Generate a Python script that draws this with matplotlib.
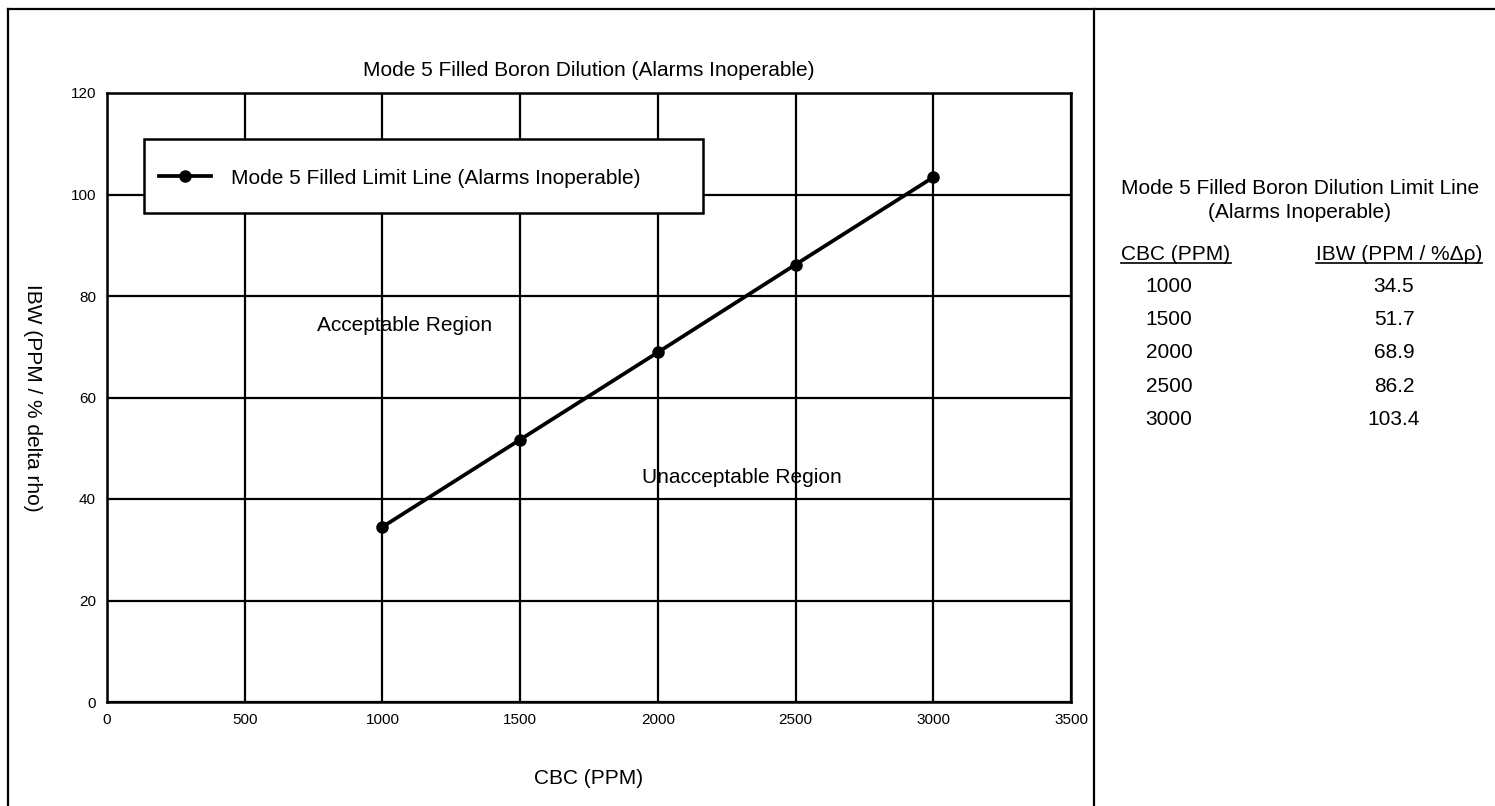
import matplotlib
matplotlib.use("Agg")
import matplotlib.pyplot as plt
from matplotlib.lines import Line2D
from matplotlib.patches import Rectangle

plt.rcParams['font.family'] = ['Liberation Sans', 'DejaVu Sans']

cbc = [1000, 1500, 2000, 2500, 3000]
ibw = [34.5, 51.7, 68.9, 86.2, 103.4]
cbc_labels = ["1000", "1500", "2000", "2500", "3000"]
ibw_labels = ["34.5", "51.7", "68.9", "86.2", "103.4"]
xticks = [0, 500, 1000, 1500, 2000, 2500, 3000, 3500]
yticks = [0, 20, 40, 60, 80, 100, 120]

W, H = 1495, 806
FS = 15
fig = plt.figure(figsize=(W / 100, H / 100), dpi=100)

def fx(px):
    return px / W

def fy(py):
    return 1 - py / H

left, right, top, bottom = 107, 1071, 93, 702
aw, ah = right - left, bottom - top
ax = fig.add_axes([fx(left), fy(bottom), aw / W, ah / H])
ax.set_xlim(0, 3500)
ax.set_ylim(0, 120)
ax.set_xticks(xticks)
ax.set_yticks(yticks)
ax.tick_params(length=0, labelsize=11, pad=8)
ax.grid(True, color='black', linewidth=1.6)
for s in ax.spines.values():
    s.set_linewidth(1.8)
ax.set_axisbelow(True)

ax.plot(cbc, ibw, color='black', linewidth=2.7, marker='o', markersize=8,
        label='Mode 5 Filled Limit Line (Alarms Inoperable)', zorder=5)

ax.set_title('Mode 5 Filled Boron Dilution (Alarms Inoperable)', fontsize=FS, pad=16)
ax.title.set_position((0.5, (bottom - 68) / ah))
ax.title.set_va('center')
ax.set_xlabel('CBC (PPM)', fontsize=FS)
ax.xaxis.set_label_coords(0.5, (bottom - 778) / ah)
ax.xaxis.label.set_va('center')
ax.set_ylabel('IBW (PPM / % delta rho)', fontsize=FS, rotation=270)
ax.yaxis.set_label_coords((32 - left) / aw, 0.5)
ax.yaxis.label.set_va('center')

ax.text(1082, 74.1, 'Acceptable Region', fontsize=FS, ha='center', va='center', zorder=6)
ax.text(2306, 44.3, 'Unacceptable Region', fontsize=FS, ha='center', va='center', zorder=6)

# legend box
bx0, by0, bx1, by1 = 144, 139, 703, 213
ax.add_patch(Rectangle(((bx0 - left) / aw, (bottom - by1) / ah),
                       (bx1 - bx0) / aw, (by1 - by0) / ah,
                       transform=ax.transAxes, facecolor='white', edgecolor='black',
                       linewidth=1.8, zorder=7))
leg = ax.legend(loc='center left', bbox_to_anchor=((159 - left) / aw,
                                                   (bottom - 178) / ah),
                frameon=False, fontsize=FS, handlelength=2.5, handletextpad=0.95,
                borderpad=0, borderaxespad=0)
leg.set_zorder(8)

# outer border and divider
fig.add_artist(Line2D([fx(7.5), fx(7.5)], [fy(8.5), 0], color='black', linewidth=1.6))
fig.add_artist(Line2D([fx(7.5), 1], [fy(8.5), fy(8.5)], color='black', linewidth=1.6))
fig.add_artist(Line2D([fx(1094), fx(1094)], [fy(8.5), 0], color='black', linewidth=1.6))

# table
fig.text(fx(1300), fy(188), 'Mode 5 Filled Boron Dilution Limit Line', fontsize=FS,
         ha='center', va='center')
fig.text(fx(1300), fy(212), '(Alarms Inoperable)', fontsize=FS, ha='center', va='center')
h1 = fig.text(fx(1176), fy(255), 'CBC (PPM)', fontsize=FS, ha='center', va='center')
h2 = fig.text(fx(1482), fy(255), 'IBW (PPM / %Δρ)', fontsize=FS, ha='right', va='center')
fig.canvas.draw()
r = fig.canvas.get_renderer()
for h in (h1, h2):
    bb = h.get_window_extent(r)
    fig.add_artist(Line2D([bb.x0 / W, bb.x1 / W], [fy(263), fy(263)],
                          color='black', linewidth=1.2))
for i, (c, v) in enumerate(zip(cbc_labels, ibw_labels)):
    yy = 286 + i * 33.4
    fig.text(fx(1169), fy(yy), c, fontsize=FS, ha='center', va='center')
    fig.text(fx(1394), fy(yy), v, fontsize=FS, ha='center', va='center')

fig.savefig('out.png', dpi=100)
